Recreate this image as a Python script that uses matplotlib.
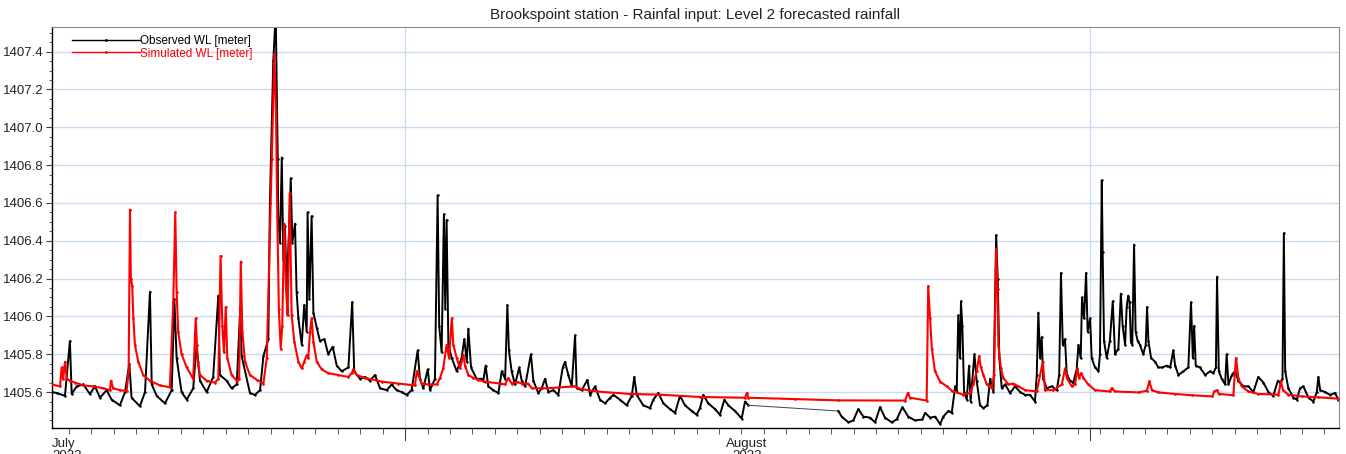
import numpy as np
import matplotlib.pyplot as plt
from matplotlib.lines import Line2D
import matplotlib.transforms as mtransforms

plt.rcParams["font.family"] = ["Liberation Sans", "DejaVu Sans"]

# days since start of July, water level in metres
obs_day = [0.00, 0.21, 0.58, 0.80, 0.88, 1.10, 1.40, 1.69, 1.92, 2.14, 2.44, 2.66, 3.03, 3.26,
           3.45, 3.55, 3.92, 4.15, 4.37, 4.45, 4.67, 5.04, 5.34, 5.46, 5.56, 5.78, 6.01, 6.30,
           6.45, 6.60, 6.90, 7.19, 7.42, 7.49, 7.79, 8.01, 8.24, 8.40, 8.46, 8.83, 9.05, 9.28,
           9.43, 9.65, 9.72, 9.87, 9.98, 10.07, 10.09, 10.17, 10.25, 10.32, 10.39, 10.47, 10.57,
           10.65, 10.72, 10.84, 10.91, 10.99, 11.14, 11.25, 11.36, 11.40, 11.48, 11.58, 11.66,
           11.81, 11.95, 12.15, 12.32, 12.52, 12.70, 12.92, 13.22, 13.39, 13.48, 13.74, 13.96,
           14.18, 14.41, 14.63, 14.93, 15.15, 15.37, 15.60, 15.82, 16.04, 16.31, 16.41, 16.56,
           16.76, 16.86, 17.08, 17.20, 17.27, 17.38, 17.48, 17.54, 17.60, 17.68, 17.83, 18.05,
           18.27, 18.39, 18.50, 18.57, 18.69, 18.94, 19.17, 19.24, 19.34, 19.46, 19.68, 19.91,
           20.06, 20.21, 20.31, 20.38, 20.50, 20.65, 20.84, 20.95, 21.10, 21.36, 21.47, 21.69,
           21.84, 21.99, 22.14, 22.36, 22.58, 22.78, 22.88, 23.03, 23.18, 23.33, 23.40, 23.63,
           23.88, 24.00, 24.22, 24.44, 24.67, 24.89, 25.04, 25.33, 25.63, 25.86, 25.97, 26.08,
           26.37, 26.67, 26.82, 27.04, 27.27, 27.56, 27.79, 28.01, 28.23, 28.53, 28.75, 28.90,
           29.05, 29.27, 29.57, 29.79, 29.99, 30.16, 30.46, 30.76, 30.91, 31.06,
           35.07, 35.22, 35.52, 35.74, 35.96, 36.19, 36.48, 36.71, 36.93, 37.15, 37.45, 37.67,
           37.93, 38.19, 38.49, 38.82, 38.94, 39.16, 39.39, 39.61, 39.75, 39.98, 40.13, 40.28,
           40.35, 40.42, 40.50, 40.54, 40.60, 40.68, 40.80, 40.90, 40.97, 41.14, 41.24, 41.39,
           41.54, 41.72, 41.84, 41.99, 42.11, 42.18, 42.25, 42.36, 42.51, 42.73, 42.95, 43.18,
           43.40, 43.62, 43.84, 43.92, 43.99, 44.07, 44.14, 44.21, 44.36, 44.59, 44.81, 44.92,
           45.00, 45.08, 45.18, 45.26, 45.41, 45.55, 45.70, 45.78, 45.88, 45.94, 46.03, 46.12,
           46.19, 46.30, 46.37, 46.52, 46.67, 46.74, 46.82, 46.86, 46.92, 47.04, 47.18, 47.31,
           47.41, 47.56, 47.67, 47.75, 47.86, 47.93, 48.00, 48.06, 48.12, 48.18, 48.26, 48.33,
           48.42, 48.52, 48.67, 48.78, 48.84, 48.90, 49.02, 49.20, 49.34, 49.52, 49.72, 49.87,
           50.01, 50.09, 50.24, 50.46, 50.68, 50.80, 50.88, 50.94, 51.01, 51.20, 51.43, 51.65,
           51.80, 51.91, 51.96, 52.04, 52.17, 52.32, 52.39, 52.47, 52.62, 52.76, 52.91, 53.14,
           53.36, 53.58, 53.80, 54.03, 54.25, 54.47, 54.67, 54.77, 54.88, 54.94, 55.00, 55.14,
           55.37, 55.52, 55.66, 55.81, 56.04, 56.26, 56.41, 56.48, 56.56, 56.78, 57.00, 57.22,
           57.37]
obs_wl = [1405.60, 1405.595, 1405.58, 1405.87, 1405.59, 1405.63, 1405.64, 1405.59, 1405.63,
          1405.57, 1405.61, 1405.56, 1405.53, 1405.60, 1405.75, 1405.57, 1405.525, 1405.60,
          1406.13, 1405.64, 1405.58, 1405.54, 1405.61, 1406.09, 1405.78, 1405.60, 1405.56,
          1405.62, 1405.85, 1405.66, 1405.60, 1405.68, 1406.11, 1405.69, 1405.66, 1405.62,
          1405.64, 1406.05, 1405.79, 1405.595, 1405.585, 1405.61, 1405.79, 1405.88, 1406.60,
          1407.35, 1407.60, 1406.83, 1406.53, 1406.39, 1406.84, 1406.30, 1406.48, 1406.16,
          1406.44, 1406.73, 1406.39, 1406.49, 1406.13, 1405.99, 1405.85, 1406.06, 1405.92,
          1406.55, 1406.09, 1406.53, 1406.02, 1405.94, 1405.87, 1405.88, 1405.80, 1405.84,
          1405.74, 1405.71, 1405.73, 1406.075, 1405.71, 1405.67, 1405.68, 1405.66, 1405.69,
          1405.62, 1405.61, 1405.64, 1405.61, 1405.60, 1405.585, 1405.61, 1405.82, 1405.67,
          1405.62, 1405.72, 1405.61, 1405.67, 1406.64, 1405.95, 1405.81, 1406.54, 1406.04,
          1406.51, 1405.85, 1405.78, 1405.71, 1405.78, 1405.88, 1405.76, 1405.935, 1405.73,
          1405.67, 1405.67, 1405.66, 1405.74, 1405.63, 1405.61, 1405.595, 1405.71, 1405.67,
          1406.06, 1405.82, 1405.71, 1405.64, 1405.73, 1405.66, 1405.63, 1405.80, 1405.66,
          1405.595, 1405.62, 1405.67, 1405.60, 1405.61, 1405.585, 1405.73, 1405.76, 1405.69,
          1405.63, 1405.90, 1405.62, 1405.61, 1405.665, 1405.585, 1405.63, 1405.56, 1405.54,
          1405.57, 1405.585, 1405.56, 1405.53, 1405.58, 1405.68, 1405.585, 1405.53, 1405.515,
          1405.56, 1405.595, 1405.54, 1405.51, 1405.49, 1405.58, 1405.53, 1405.50, 1405.48,
          1405.515, 1405.585, 1405.54, 1405.51, 1405.48, 1405.56, 1405.53, 1405.50, 1405.46,
          1405.55, 1405.53,
          1405.50, 1405.47, 1405.44, 1405.45, 1405.51, 1405.47, 1405.465, 1405.44, 1405.52,
          1405.465, 1405.44, 1405.455, 1405.52, 1405.47, 1405.45, 1405.455, 1405.49, 1405.465,
          1405.47, 1405.43, 1405.47, 1405.50, 1405.49, 1405.63, 1405.60, 1406.005, 1405.78,
          1406.08, 1405.95, 1405.60, 1405.56, 1405.74, 1405.55, 1405.80, 1405.66, 1405.53,
          1405.515, 1405.53, 1405.67, 1405.60, 1406.43, 1406.20, 1405.78, 1405.62, 1405.64,
          1405.595, 1405.63, 1405.60, 1405.585, 1405.585, 1405.55, 1405.69, 1406.02, 1405.78,
          1405.89, 1405.67, 1405.62, 1405.63, 1405.61, 1405.69, 1406.23, 1405.85, 1405.88,
          1405.69, 1405.66, 1405.65, 1405.72, 1405.85, 1405.78, 1406.10, 1405.99, 1406.23,
          1405.92, 1405.99, 1405.78, 1405.73, 1405.71, 1405.80, 1406.72, 1406.34, 1405.87,
          1405.78, 1405.87, 1406.08, 1405.80, 1405.83, 1406.12, 1405.95, 1405.85, 1406.05,
          1406.11, 1406.075, 1405.865, 1405.85, 1406.38, 1405.92, 1405.87, 1405.85, 1405.80,
          1405.85, 1406.05, 1405.87, 1405.78, 1405.76, 1405.73, 1405.73, 1405.74, 1405.73,
          1405.82, 1405.74, 1405.69, 1405.71, 1405.73, 1406.075, 1405.78, 1405.95, 1405.74,
          1405.73, 1405.69, 1405.71, 1405.70, 1405.73, 1406.21, 1405.71, 1405.67, 1405.64,
          1405.80, 1405.64, 1405.69, 1405.71, 1405.66, 1405.63, 1405.63, 1405.60, 1405.68,
          1405.65, 1405.60, 1405.58, 1405.66, 1405.65, 1405.67, 1406.44, 1405.71, 1405.62,
          1405.57, 1405.56, 1405.62, 1405.63, 1405.57, 1405.55, 1405.60, 1405.68, 1405.61,
          1405.60, 1405.585, 1405.595, 1405.56]

sim_day = [0.00, 0.36, 0.43, 0.50, 0.58, 0.66, 0.80, 1.03, 1.40, 1.84, 2.29, 2.59, 2.63, 2.73,
           3.03, 3.33, 3.42, 3.48, 3.52, 3.58, 3.63, 3.70, 3.85, 4.07, 4.37, 4.82, 5.26, 5.41,
           5.50, 5.56, 5.63, 5.78, 6.01, 6.30, 6.41, 6.50, 6.60, 6.90, 7.27, 7.42, 7.52, 7.60,
           7.67, 7.75, 7.82, 8.01, 8.24, 8.35, 8.42, 8.49, 8.61, 8.83, 9.13, 9.43, 9.58, 9.80,
           9.92, 9.99, 10.05, 10.12, 10.20, 10.27, 10.36, 10.44, 10.51, 10.60, 10.69, 10.81,
           10.99, 11.14, 11.25, 11.36, 11.43, 11.51, 11.58, 11.66, 11.81, 12.03, 12.32, 12.77,
           13.22, 13.37, 13.44, 13.59, 13.96, 14.71, 15.45, 16.19, 16.27, 16.34, 16.49, 16.78,
           17.16, 17.31, 17.45, 17.60, 17.71, 17.83, 17.90, 18.05, 18.20, 18.35, 18.42, 18.57,
           18.79, 19.01, 19.31, 19.98, 20.21, 20.35, 20.50, 20.73, 20.95, 21.24, 21.40, 22.06,
           23.33, 23.55, 24.30, 25.78, 27.12, 28.90, 30.91, 30.99, 31.06, 33.14, 35.07, 38.05,
           38.17, 38.27, 39.01, 39.08, 39.16, 39.24, 39.38, 39.61, 39.91, 40.13, 40.64, 40.94,
           41.09, 41.24, 41.35, 41.42, 41.54, 41.69, 41.91, 42.02, 42.11, 42.17, 42.21, 42.32,
           42.43, 42.66, 42.88, 43.10, 43.40, 43.92, 44.19, 44.29, 44.66, 45.04, 45.18, 45.26,
           45.48, 45.63, 45.73, 45.81, 45.90, 46.00, 46.22, 46.52, 47.18, 47.26, 47.41, 48.46,
           48.83, 48.94, 49.06, 49.34, 50.09, 50.83, 51.75, 51.84, 51.95, 52.05, 52.69, 52.76,
           52.81, 52.91, 53.06, 53.36, 53.80, 54.70, 54.81, 54.90, 55.14, 55.74, 56.48, 57.37]
sim_wl = [1405.64, 1405.63, 1405.73, 1405.67, 1405.76, 1405.67, 1405.66, 1405.65, 1405.635,
          1405.63, 1405.62, 1405.61, 1405.66, 1405.62, 1405.61, 1405.605, 1405.71, 1406.565,
          1406.20, 1406.16, 1405.99, 1405.85, 1405.76, 1405.69, 1405.66, 1405.635, 1405.625,
          1406.075, 1406.55, 1406.13, 1405.92, 1405.80, 1405.73, 1405.67, 1405.99, 1405.76,
          1405.69, 1405.66, 1405.65, 1405.67, 1406.32, 1405.95, 1405.81, 1406.05, 1405.78,
          1405.69, 1405.66, 1405.67, 1406.29, 1405.92, 1405.76, 1405.69, 1405.665, 1405.645,
          1405.78, 1406.83, 1407.385, 1407.09, 1406.53, 1406.04, 1405.83, 1405.95, 1406.49,
          1406.145, 1406.005, 1406.65, 1406.005, 1405.865, 1405.76, 1405.725, 1405.76, 1405.795,
          1405.78, 1405.92, 1405.99, 1405.865, 1405.76, 1405.72, 1405.70, 1405.69, 1405.68,
          1405.70, 1405.72, 1405.69, 1405.675, 1405.655, 1405.645, 1405.635, 1405.71, 1405.69,
          1405.645, 1405.64, 1405.64, 1405.675, 1405.725, 1405.85, 1405.78, 1405.99, 1405.85,
          1405.78, 1405.725, 1405.795, 1405.74, 1405.69, 1405.675, 1405.665, 1405.655, 1405.645,
          1405.64, 1405.675, 1405.645, 1405.655, 1405.645, 1405.645, 1405.62, 1405.62, 1405.63,
          1405.617, 1405.603, 1405.59, 1405.586, 1405.574, 1405.57, 1405.595, 1405.57, 1405.563,
          1405.556, 1405.555, 1405.595, 1405.57, 1405.555, 1406.16, 1405.99, 1405.83, 1405.71,
          1405.655, 1405.63, 1405.607, 1405.586, 1405.595, 1405.64, 1405.71, 1405.79, 1405.735,
          1405.69, 1405.64, 1405.62, 1405.69, 1406.355, 1406.145, 1405.85, 1405.725, 1405.675,
          1405.64, 1405.645, 1405.63, 1405.61, 1405.603, 1405.76, 1405.61, 1405.61, 1405.64,
          1405.725, 1405.675, 1405.63, 1405.64, 1405.725, 1405.675, 1405.70, 1405.675, 1405.64,
          1405.61, 1405.603, 1405.62, 1405.603, 1405.598, 1405.607, 1405.656, 1405.61, 1405.598,
          1405.59, 1405.583, 1405.577, 1405.603, 1405.61, 1405.59, 1405.583, 1405.71, 1405.78,
          1405.673, 1405.63, 1405.603, 1405.59, 1405.586, 1405.656, 1405.61, 1405.586, 1405.577,
          1405.572, 1405.565]

month_days = [0, 31]
month_labels = ["July\n2022", "August\n2022"]
vgrid_days = [15.75, 46.3]
y_ticks = [1405.6, 1405.8, 1406.0, 1406.2, 1406.4, 1406.6, 1406.8, 1407.0, 1407.2, 1407.4]

fig = plt.figure(figsize=(13.46, 4.54), dpi=100)
ax = fig.add_axes([0.0386, 0.0573, 0.9562, 0.8832])

grid_c = "#c9ddf2"
for v in y_ticks:
    ax.axhline(v, color=grid_c, lw=1.0, zorder=0)
for d in vgrid_days:
    ax.axvline(d, color=grid_c, lw=1.0, zorder=0)

# observed record has a data gap in early August: bridge it with a thin line
od = np.array(obs_day)
ow = np.array(obs_wl)
gap = int(np.argmax(np.diff(od) > 2)) + 1
ax.plot(od[:gap], ow[:gap], color="black", lw=1.4, marker=".", ms=1.5, zorder=2)
ax.plot(od[gap:], ow[gap:], color="black", lw=1.4, marker=".", ms=1.5, zorder=2)
ax.plot(od[gap - 1:gap + 1], ow[gap - 1:gap + 1], color="#444444", lw=0.7, zorder=2)
ax.plot(sim_day, sim_wl, color="red", lw=1.5, marker=".", ms=1.8, zorder=3)

ax.set_xlim(0, 57.4)
ax.set_ylim(1405.41, 1407.53)

ax.set_yticks(y_ticks)
ax.set_yticklabels([f"{v:.1f}" for v in y_ticks])
ax.set_yticks(np.arange(1405.45, 1407.53, 0.05), minor=True)
ax.tick_params(axis="y", which="major", length=4, width=0.8, color="#404040",
               labelsize=9.5, labelcolor="#222222", pad=2)
ax.tick_params(axis="y", which="minor", length=2.5, width=0.6, color="#404040")

ax.set_xticks(month_days)
ax.set_xticklabels(month_labels, linespacing=1.0)
ax.set_xticks(np.arange(0.75, 57.4, 1.0), minor=True)
ax.tick_params(axis="x", which="major", length=0, labelsize=9.5, labelcolor="#222222", pad=7)
ax.tick_params(axis="x", which="minor", length=4, width=0.6, color="#404040")
ax.get_xticklabels()[0].set_horizontalalignment("left")

trans = mtransforms.blended_transform_factory(ax.transData, ax.transAxes)
for d in vgrid_days:
    ax.plot([d, d], [0, -0.03], color="#404040", lw=0.8, transform=trans, clip_on=False)

for s in ["left", "bottom"]:
    ax.spines[s].set_color("black")
    ax.spines[s].set_linewidth(1.0)
for s in ["top", "right"]:
    ax.spines[s].set_color("#8a8a8a")
    ax.spines[s].set_linewidth(0.8)

handles = [Line2D([], [], color="black", lw=1.0, marker=".", ms=2),
           Line2D([], [], color="red", lw=1.0, marker=".", ms=2)]
leg = ax.legend(handles, ["Observed WL [meter]", "Simulated WL [meter]"],
                loc="upper left", bbox_to_anchor=(0.011, 0.995), frameon=False,
                fontsize=8.5, handlelength=5.8, handletextpad=0.0, labelspacing=0.05,
                borderpad=0.0, numpoints=1)
for txt, c in zip(leg.get_texts(), ["black", "red"]):
    txt.set_color(c)

ax.set_title("Brookspoint station - Rainfal input: Level 2 forecasted rainfall",
             fontsize=11, color="#222222", pad=6)

fig.savefig("out.png", dpi=100)
